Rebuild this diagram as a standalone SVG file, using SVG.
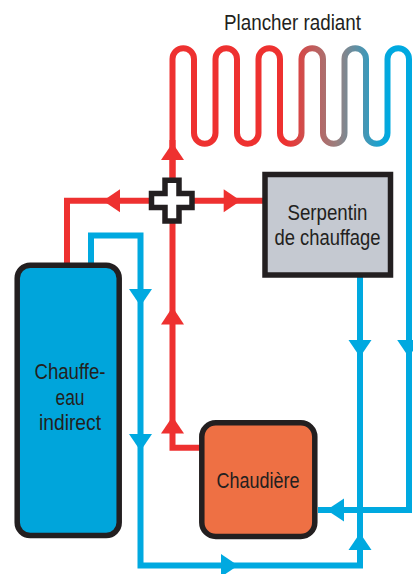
<svg xmlns="http://www.w3.org/2000/svg" width="413" height="574" viewBox="0 0 413 574">
<style>
.r{fill:none;stroke:#ee3130;stroke-width:6}
.b{fill:none;stroke:#00a9e0;stroke-width:6}
.ra{fill:#ee3130}.ba{fill:#00a9e0}
.n{stroke:#231f20}
text{font-family:"Liberation Sans Narrow","Liberation Sans",Arial,sans-serif;font-size:22px;fill:#231f20;text-anchor:middle}
</style>
<defs>
<linearGradient id="g" gradientUnits="userSpaceOnUse" x1="285" y1="0" x2="388" y2="0">
<stop offset="0" stop-color="#ee3130"/><stop offset="0.5" stop-color="#9a807f"/><stop offset="1" stop-color="#00a9e0"/>
</linearGradient>
</defs>
<g id="connectors">
<path d="M172.5 200V59A10.75 10.75 0 0 1 194 59V133A10.75 10.75 0 0 0 215.5 133V59A10.75 10.75 0 0 1 237 59V133A10.75 10.75 0 0 0 258.5 133V59A10.75 10.75 0 0 1 280 59V133A10.75 10.75 0 0 0 301.5 133V59A10.75 10.75 0 0 1 323 59V133A10.75 10.75 0 0 0 344.5 133V59A10.75 10.75 0 0 1 366 59V133A10.75 10.75 0 0 0 387.5 133V59A10.75 10.75 0 0 1 409 59V160" fill="none" stroke="url(#g)" stroke-width="6"/>
<path class="b" d="M409 160V510H318"/>
<path class="r" d="M172.5 140V200"/>
<path class="r" d="M263 200.7H67V264"/>
<path class="r" d="M172.5 220V447.7H200"/>
<path class="b" d="M91 264V235.5H140.5V565.5H360V277"/>
<polygon class="ra" points="172.5,143 184,160 161,160"/>
<polygon class="ra" points="103,200.7 120,189.2 120,212.2"/>
<polygon class="ra" points="240.7,200.7 223.7,189.2 223.7,212.2"/>
<polygon class="ra" points="172.5,307 184,324.5 161,324.5"/>
<polygon class="ra" points="172.5,416.5 184,433.5 161,433.5"/>
<polygon class="ba" points="140.5,306 129,289 152,289"/>
<polygon class="ba" points="140.5,451 129,434 152,434"/>
<polygon class="ba" points="238,565.5 221,554 221,577"/>
<polygon class="ba" points="360,533 371.5,550 348.5,550"/>
<polygon class="ba" points="360,357 348.5,340 371.5,340"/>
<polygon class="ba" points="408.7,357 397.2,340 420.2,340"/>
<polygon class="ba" points="326.7,510 344,498.5 344,521.5"/>
</g>
<g id="valve">
<path class="n" d="M165 180.2H179V193.5H192V207.5H179V221H165V207.5H151.5V193.5H165Z" fill="#fff" stroke-width="5.5"/>
</g>
<g id="plancher"><text x="292.500" y="30" textLength="137" lengthAdjust="spacingAndGlyphs">Plancher radiant</text></g>
<g id="serpentin">
<rect class="n" x="265" y="174.500" width="125.500" height="100.500" fill="#c5c9d1" stroke-width="5.500"/>
<text x="327.500" y="219.500" textLength="80" lengthAdjust="spacingAndGlyphs">Serpentin</text>
<text x="327.500" y="245" textLength="106" lengthAdjust="spacingAndGlyphs">de chauffage</text>
</g>
<g id="chauffe-eau">
<rect class="n" x="17.200" y="265.200" width="102" height="270.300" rx="13" fill="#00a5db" stroke-width="5.500"/>
<text x="70" y="379" textLength="71" lengthAdjust="spacingAndGlyphs">Chauffe-</text>
<text x="70" y="405" textLength="29" lengthAdjust="spacingAndGlyphs">eau</text>
<text x="70" y="430" textLength="62" lengthAdjust="spacingAndGlyphs">indirect</text>
</g>
<g id="chaudiere">
<rect class="n" x="201.800" y="422.800" width="113" height="113.700" rx="14" fill="#ee7044" stroke-width="5.500"/>
<text x="258" y="488" textLength="83" lengthAdjust="spacingAndGlyphs">Chaudière</text>
</g>
</svg>
